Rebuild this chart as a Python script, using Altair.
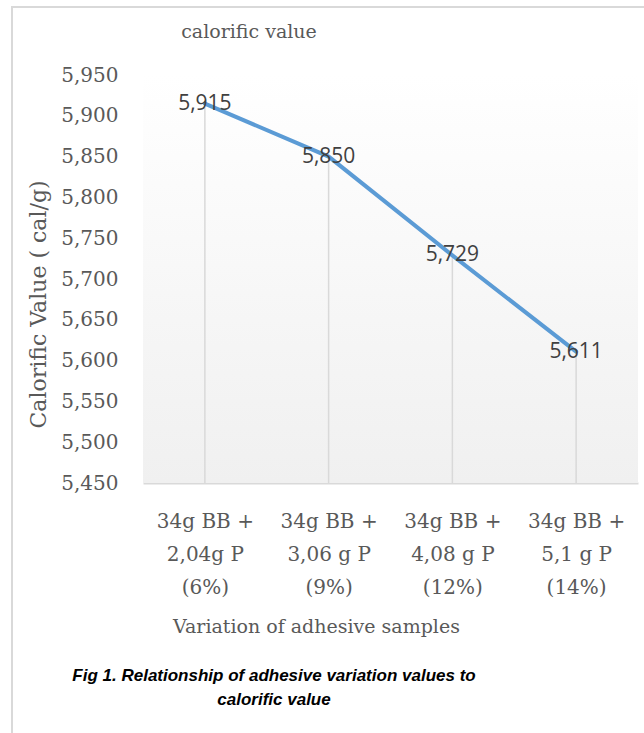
import altair as alt
import pandas as pd

# ---- data ----
categories = [
    "34g BB +|2,04g P|(6%)",
    "34g BB +|3,06 g P|(9%)",
    "34g BB +|4,08 g P|(12%)",
    "34g BB +|5,1 g P|(14%)",
]
calorific = [5915, 5850, 5729, 5611]
y_ticks = [5450, 5500, 5550, 5600, 5650, 5700, 5750, 5800, 5850, 5900, 5950]
chart_title = "calorific value"
x_title = "Variation of adhesive samples"
y_title = "Calorific Value ( cal/g)"
caption_lines = ["Fig 1. Relationship of adhesive variation values to", "calorific value"]

df = pd.DataFrame({"cat": categories, "val": calorific})

SERIF = "DejaVu Serif"
GREY = "#595959"
W, H = 495, 408

x_enc = alt.X(
    "cat:N",
    sort=categories,
    scale=alt.Scale(type="point", padding=0.5),
    axis=alt.Axis(
        title=x_title,
        labelExpr="split(datum.label, '|')",
        labelAngle=0,
        labelFont=SERIF,
        labelFontSize=20,
        labelColor=GREY,
        labelLineHeight=33,
        labelPadding=28,
        ticks=False,
        domainColor="#d9d9d9",
        domainWidth=2,
        titleFont=SERIF,
        titleFontSize=19,
        titleFontWeight="normal",
        titleColor=GREY,
        titleX=173,
        titleY=143,
        titleAlign="center",
        titleBaseline="middle",
        titleAnchor="start",
    ),
)
y_enc = alt.Y(
    "val:Q",
    scale=alt.Scale(domain=[5450, 5950], nice=False, zero=False),
    axis=alt.Axis(
        title=y_title,
        values=y_ticks,
        format=",.0f",
        grid=False,
        domain=False,
        ticks=False,
        labelFont=SERIF,
        labelFontSize=20,
        labelColor=GREY,
        labelPadding=25,
        titleFont=SERIF,
        titleFontSize=22,
        titleFontWeight="normal",
        titleColor=GREY,
        titleAngle=270,
        titleX=-105,
        titleY=229,
        titleAlign="center",
        titleBaseline="middle",
        titleAnchor="start",
    ),
)

gradient = alt.Gradient(
    gradient="linear",
    x1=0, y1=0, x2=0, y2=1,
    stops=[
        alt.GradientStop(offset=0, color="#ffffff"),
        alt.GradientStop(offset=1, color="#f0f0f0"),
    ],
)
one = alt.Data(values=[{"a": 1}])

bg = alt.Chart(one).mark_rect(fill=gradient).encode(
    x=alt.value(0), x2=alt.value("width"), y=alt.value(0), y2=alt.value("height")
)

drops = alt.Chart(df).mark_rule(color="#d9d9d9", strokeWidth=1.5).encode(
    x=x_enc, y=y_enc, y2=alt.value(H)
)

line = alt.Chart(df).mark_line(color="#5B9BD5", strokeWidth=4, strokeCap="round").encode(
    x=x_enc, y=y_enc
)

labels = alt.Chart(df).mark_text(
    font="Open Sans", fontSize=21, color="#404040", align="center", baseline="middle"
).encode(x=x_enc, y=y_enc, text=alt.Text("val:Q", format=",.0f"))

title_df = pd.DataFrame({"t": [chart_title]})
title_mark = alt.Chart(title_df).mark_text(
    font=SERIF, fontSize=19, color=GREY, align="center", baseline="middle"
).encode(x=alt.value(106), y=alt.value(-43), text="t:N")

cap_df = pd.DataFrame({"t": ["\n".join(caption_lines)]})
caption = alt.Chart(cap_df).mark_text(
    font="Liberation Sans", fontSize=17, fontWeight="bold", fontStyle="italic",
    color="#000000", align="center", baseline="middle", lineBreak="\n", lineHeight=24,
).encode(x=alt.value(131), y=alt.value(601), text="t:N")

border_v = alt.Chart(one).mark_rule(color="#d9d9d9", strokeWidth=2).encode(
    x=alt.value(-131), y=alt.value(-68), y2=alt.value(700)
)
border_h = alt.Chart(one).mark_rule(color="#d9d9d9", strokeWidth=2).encode(
    x=alt.value(-132), x2=alt.value(520), y=alt.value(-68)
)

chart = alt.layer(
    bg, drops, line, labels, title_mark, caption, border_v, border_h
).properties(
    width=W,
    height=H,
    padding={"left": 143, "top": 75, "right": 6, "bottom": 250},
    autosize=alt.AutoSizeParams(type="none"),
    background="#ffffff",
).configure_view(stroke=None)

chart.save("out.html", embed_options={"renderer": "svg", "actions": False})
